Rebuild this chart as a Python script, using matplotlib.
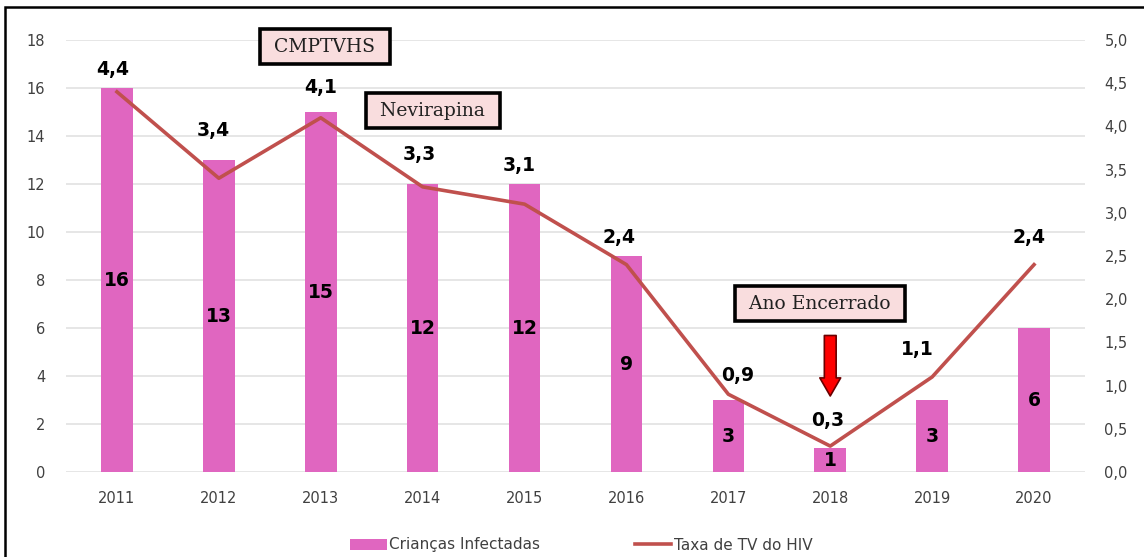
import matplotlib.pyplot as plt
from matplotlib.patches import Rectangle

# Data
anos = ['2011', '2012', '2013', '2014', '2015', '2016', '2017', '2018', '2019', '2020']
criancas = [16, 13, 15, 12, 12, 9, 3, 1, 3, 6]
taxa = [4.4, 3.4, 4.1, 3.3, 3.1, 2.4, 0.9, 0.3, 1.1, 2.4]

# label nudges (pixels) so the rate labels sit where they are in the original
taxa_dx = [-4, -6, 0, -3, -5, -7, 9, -3, -15, -5]
taxa_dy = [22, 48, 30, 32, 39, 27, 19, 26, 27, 27]

bar_color = '#E066C0'
line_color = '#C0504D'
grid_color = '#E4E4E4'
tick_color = '#404040'

fig = plt.figure(figsize=(11.44, 5.57), dpi=100)
ax = fig.add_axes([66 / 1144, 1 - 472 / 557, (1085 - 66) / 1144, (472 - 40) / 557])
ax2 = ax.twinx()

x = list(range(len(anos)))

# Bars: infected children
bars = ax.bar(x, criancas, width=0.31, color=bar_color, label='Crianças Infectadas', zorder=2)
for b, v in zip(bars, criancas):
    ax.text(b.get_x() + b.get_width() / 2, v / 2, str(v), ha='center', va='center',
            fontsize=13.5, fontweight='bold', color='black', zorder=3)

ax.set_ylim(0, 18)
ax.set_yticks(range(0, 19, 2))
ax.set_xlim(-0.5, len(anos) - 0.5)
ax.set_xticks(x)
ax.set_xticklabels(anos)
ax.grid(axis='y', color=grid_color, linewidth=1.3, zorder=0)
ax.set_axisbelow(True)

# Line: transmission rate
ax2.plot(x, taxa, color=line_color, linewidth=2.6, label='Taxa de TV do HIV', zorder=3)
for i, v in enumerate(taxa):
    ax2.annotate(f'{v:.1f}'.replace('.', ','), (i, v), xytext=(taxa_dx[i], taxa_dy[i]),
                 textcoords='offset pixels', ha='center', va='center',
                 fontsize=13.5, fontweight='bold', color='black')
ax2.set_ylim(0, 5)
ax2.set_yticks([i * 0.5 for i in range(11)])
ax2.set_yticklabels([f'{i * 0.5:.1f}'.replace('.', ',') for i in range(11)])

for a in (ax, ax2):
    for s in a.spines.values():
        s.set_visible(False)
    a.tick_params(length=0, labelsize=10.5, colors=tick_color)
ax.tick_params(axis='x', pad=14)
ax.tick_params(axis='y', pad=15)
ax2.tick_params(axis='y', pad=14)

# Annotation boxes
box = dict(boxstyle='square,pad=0.45', facecolor='#F9DDDE', edgecolor='black', linewidth=2.6)
for txt, xy in [('CMPTVHS', (2.04, 4.92)), ('Nevirapina', (3.1, 4.18)), ('Ano Encerrado', (6.9, 1.95))]:
    ax2.text(xy[0], xy[1], f' {txt} ', ha='center', va='center', fontsize=13.5,
             family='DejaVu Serif', color='#202020', bbox=box, zorder=5)

# Red arrow over 2018
ax2.annotate('', xy=(7, 0.88), xytext=(7, 1.58),
             arrowprops=dict(arrowstyle='simple,head_width=1.5,head_length=1.3,tail_width=0.85',
                             facecolor='#FF0000', edgecolor='#6A0000', linewidth=1.2,
                             mutation_scale=10, shrinkA=0, shrinkB=0))

# Legend at the bottom
h1, l1 = ax.get_legend_handles_labels()
h2, l2 = ax2.get_legend_handles_labels()
fig.legend(h1 + h2, l1 + l2, loc='center left', bbox_to_anchor=(350 / 1144, 12 / 557),
           ncol=2, frameon=False, fontsize=11, handlelength=2.4, handletextpad=0.15,
           columnspacing=6.2, borderpad=0, borderaxespad=0, labelcolor=tick_color)

# Outer frame (only left and top edges are visible in the crop)
fig.patches.append(Rectangle((5 / 1144, -0.1), 1.2, 1.1 - 7 / 557, transform=fig.transFigure,
                             fill=False, edgecolor='black', linewidth=1.8))

fig.savefig('out.png', dpi=100)
